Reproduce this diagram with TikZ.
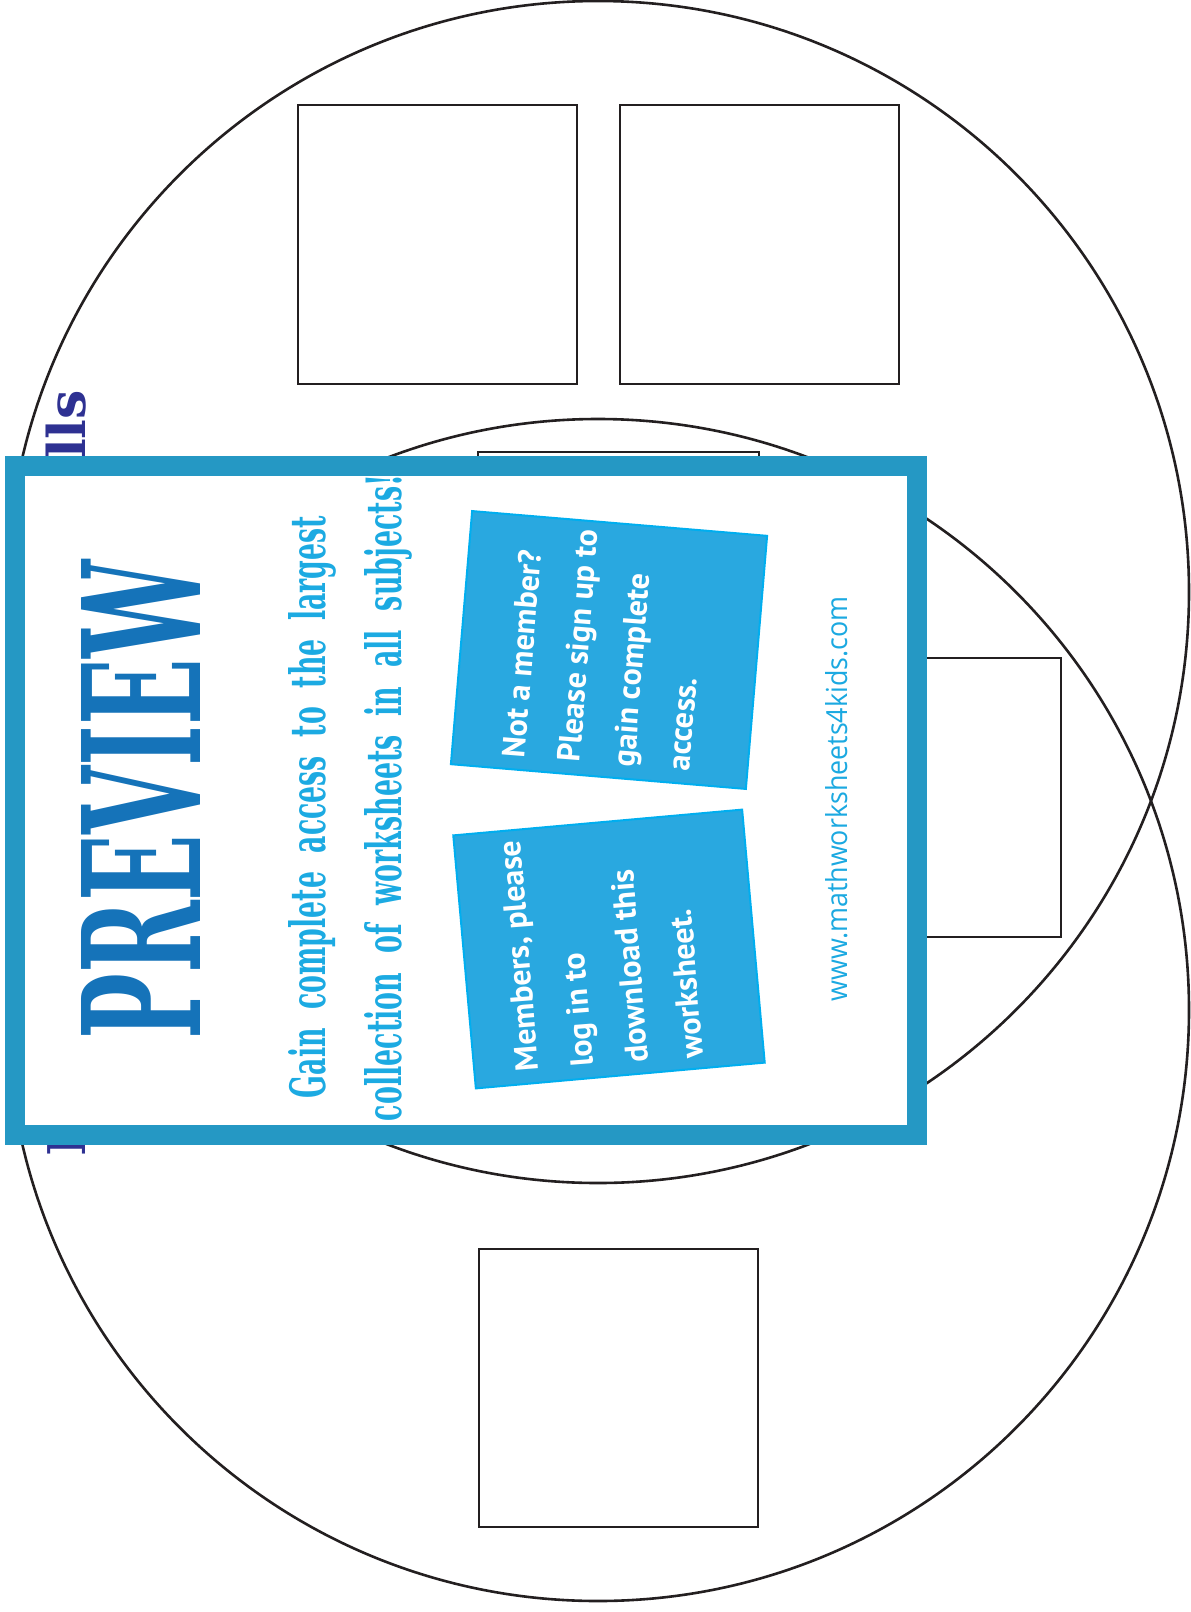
\documentclass[tikz,border=0pt]{standalone}
\usepackage{fontspec}
\usepackage{graphicx}
\newfontfamily\slab{DejaVu Serif}
\newfontfamily\boxfont{PT Sans}
\newfontfamily\urlfont{Open Sans}
\definecolor{vennline}{HTML}{231F20}
\definecolor{frameblue}{HTML}{2598C4}
\definecolor{previewblue}{HTML}{1573B9}
\definecolor{subcyan}{HTML}{1CAAE2}
\definecolor{stickyfill}{HTML}{29A8E0}
\definecolor{stickyedge}{HTML}{00AEEF}
\definecolor{urlcyan}{HTML}{1BA9E1}
\definecolor{titleblue}{HTML}{2E3192}
\begin{document}
\begin{tikzpicture}[x=1pt,y=-1pt,
  venn/.style={draw=vennline, line width=2.6pt},
  slotbox/.style={draw=vennline, line width=2.6pt},
  sticky/.style={draw=stickyedge, line width=2pt, fill=stickyfill, inner sep=0pt},
  stickytext/.style={text=white, inner sep=0pt, align=left, anchor=north west,
    font=\boxfont\bfseries\fontsize{32}{55}\selectfont},
  titlefrag/.style={text=titleblue, inner sep=0pt, rotate=90,
    font=\slab\bfseries\fontsize{52}{60}\selectfont}]
\useasboundingbox (0,0) rectangle (1191,1612);
\fill[white] (0,0) rectangle (1191,1612);

% Venn circles
\draw[venn] (598,592) circle[radius=591pt];
\draw[venn] (598,1010) circle[radius=591pt];

% answer boxes
\draw[slotbox] (298,105) rectangle (577,384);
\draw[slotbox] (620,105) rectangle (899,384);
\draw[slotbox] (478,452) rectangle (759,731);
\draw[slotbox] (782,658) rectangle (1061,937);
\draw[slotbox] (479,1249) rectangle (758,1527);

% title fragments (mostly hidden by the preview card)
\node[titlefrag, anchor=base east] (tend) at (85,390) {lls};
\node[titlefrag, anchor=base west] (tstart) at (85,1157) {I};

% preview card
\draw[line width=20pt, draw=frameblue, fill=white] (15,466) rectangle (917,1135);

\node[rotate=90, inner sep=0pt, anchor=center, text=previewblue] (prev) at (141,800)
  {\resizebox{479pt}{119pt}{\slab\bfseries PREVIEW}};

\node[rotate=90, inner sep=0pt, anchor=base, text=subcyan] (sub1) at (325,807)
  {\resizebox{582pt}{37pt}{\slab\bfseries\spaceskip=0.7em Gain complete access to the largest}};
\node[rotate=90, inner sep=0pt, anchor=base, text=subcyan] (sub2) at (401,798)
  {\resizebox{646pt}{37pt}{\slab\bfseries\spaceskip=0.7em collection of worksheets in all subjects!}};

% sticky notes
\node[sticky, rotate=-4.8, minimum width=296pt, minimum height=254pt] (note1) at (609,650) {};
\node[sticky, rotate=5.1, minimum width=290pt, minimum height=254pt] (note2) at (609,949) {};

\node[stickytext, rotate=85.5] (note1txt) at (502,757)
  {Not a member?\\Please sign up to\\gain complete\\access.};
\node[stickytext, rotate=94.5] (note2txt) at (516,1072)
  {Members, please\\log in to\\download this\\worksheet.};

% url
\node[rotate=90, inner sep=0pt, anchor=base, text=urlcyan] (url) at (847,799)
  {\resizebox{405pt}{22pt}{\urlfont www.mathworksheets4kids.com}};
\end{tikzpicture}
\end{document}
